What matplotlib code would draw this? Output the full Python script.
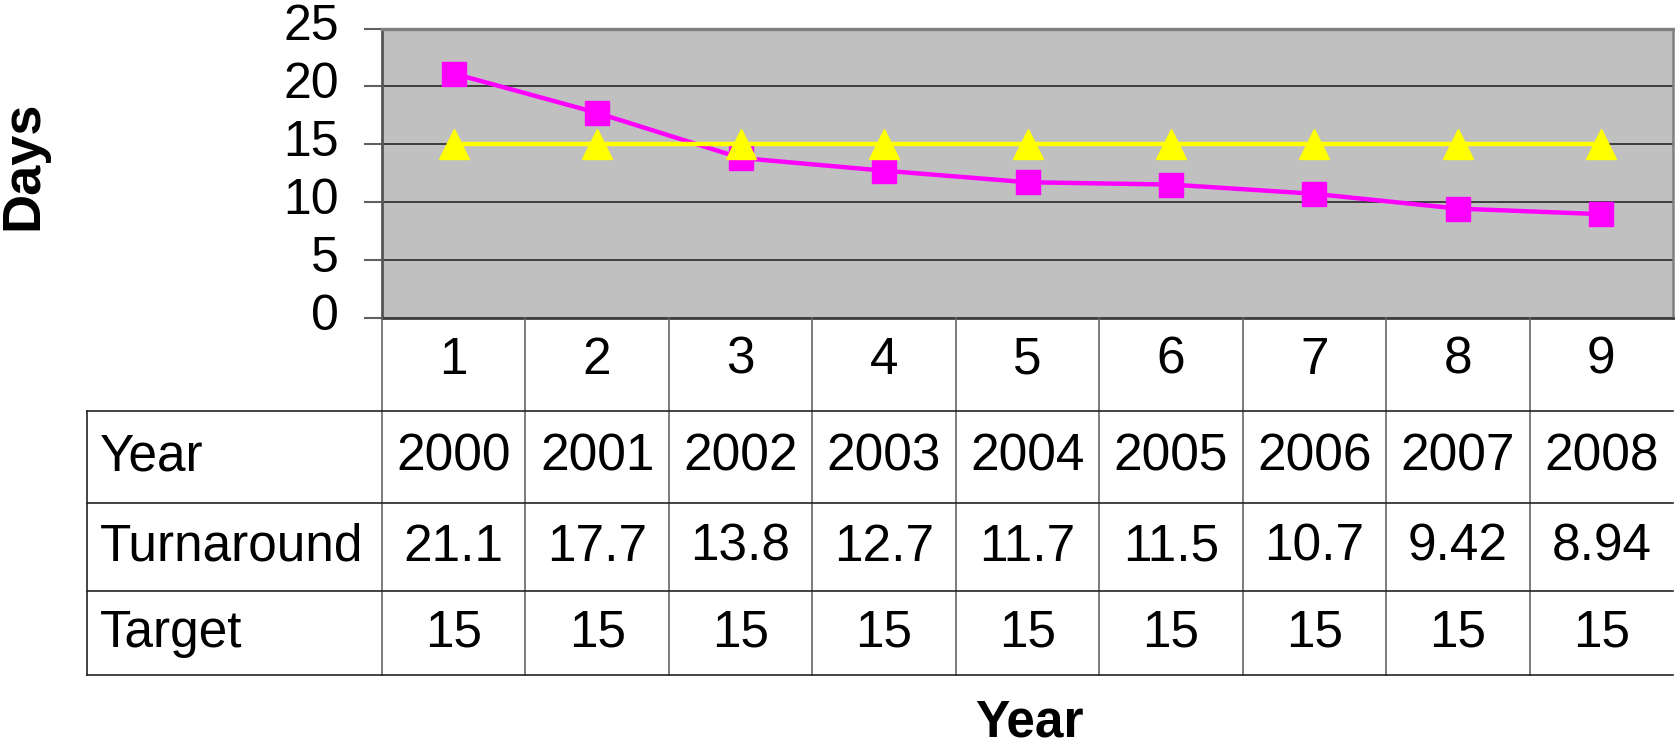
import matplotlib
matplotlib.use("Agg")
import matplotlib.pyplot as plt
import matplotlib.transforms as mtransforms

plt.rcParams['font.family'] = ['Liberation Sans', 'DejaVu Sans']

# data
points = [1, 2, 3, 4, 5, 6, 7, 8, 9]
years = [2000, 2001, 2002, 2003, 2004, 2005, 2006, 2007, 2008]
turnaround = [21.1, 17.7, 13.8, 12.7, 11.7, 11.5, 10.7, 9.42, 8.94]
target = [15, 15, 15, 15, 15, 15, 15, 15, 15]
turnaround_labels = ["21.1", "17.7", "13.8", "12.7", "11.7", "11.5", "10.7", "9.42", "8.94"]
row_names = ["Year", "Turnaround", "Target"]

W, H = 1675, 752
fig = plt.figure(figsize=(W / 100, H / 100), dpi=100)

# plot area in pixels (from top-left)
left, right, top, bottom = 382, 1673, 28.5, 317.5
ax = fig.add_axes([left / W, 1 - bottom / H, (right - left) / W, (bottom - top) / H])
ax.set_facecolor('#C0C0C0')

ax.plot(points, turnaround, color='#FF00FF', lw=3.2, marker='s', ms=17,
        mec='#FF00FF', mew=1, zorder=3, clip_on=False)
ax.plot(points, target, color='#FFFF00', lw=3.2, marker='^', ms=21,
        mec='#FFFF00', mew=1, zorder=4, clip_on=False)

ax.set_xlim(0.5, 9.5)
ax.set_ylim(0, 25)
ax.set_yticks([0, 5, 10, 15, 20, 25])
ax.set_xticks([])
ax.tick_params(axis='y', labelsize=36, length=13, width=1.5, color='#606060', pad=18)
# labels sit a little above their ticks in the original
shift = mtransforms.ScaledTranslation(0, 6 / 100, fig.dpi_scale_trans)
for lab in ax.get_yticklabels():
    lab.set_transform(lab.get_transform() + shift)
ax.yaxis.grid(True, color='#333333', lw=1.3, zorder=1)
ax.set_axisbelow(True)

ax.spines['top'].set_color('#808080')
ax.spines['top'].set_linewidth(2.4)
ax.spines['left'].set_color('#555555')
ax.spines['left'].set_linewidth(2.0)
ax.spines['bottom'].set_color('#404040')
ax.spines['bottom'].set_linewidth(2.0)
ax.spines['right'].set_color('#808080')
ax.spines['right'].set_linewidth(1.8)

fig.text(23.5 / W, 1 - 165 / H, "Days", rotation=90, fontsize=39, fontweight='bold',
         ha='center', va='center')
fig.text(1029 / W, 1 - 723 / H, "Year", fontsize=37, fontweight='bold',
         ha='center', va='center')

# table below the plot
ax_t = fig.add_axes([0, 0, 1, 1])
ax_t.set_xlim(0, W)
ax_t.set_ylim(H, 0)
ax_t.axis('off')
ax_t.patch.set_alpha(0)
trans = mtransforms.blended_transform_factory(ax.transData, ax_t.transData)

rows_y = [317.5, 410.7, 503.3, 591.3, 675.3]
tab_left = 87

for xb in [p - 0.5 for p in points]:
    ax_t.plot([xb, xb], [rows_y[0], rows_y[-1]], color='#666666', lw=1.2,
              transform=trans, clip_on=False)
ax_t.plot([tab_left, tab_left], [rows_y[1], rows_y[-1]], color='#222222', lw=1.2)
for yb in rows_y[1:]:
    ax_t.plot([tab_left, right], [yb, yb], color='#222222', lw=1.2)

fs = 37
for p in points:
    ax_t.text(p, 360, str(p), fontsize=fs, ha='center', va='center', transform=trans)
cells = [[str(y) for y in years], turnaround_labels, [str(t) for t in target]]
for r, name in enumerate(row_names):
    yc = (rows_y[r + 1] + rows_y[r + 2]) / 2
    ax_t.text(100, yc, name, fontsize=fs, ha='left', va='center')
    for p, val in zip(points, cells[r]):
        ax_t.text(p, yc, val, fontsize=fs, ha='center', va='center', transform=trans)

fig.savefig("out.png", dpi=100)
